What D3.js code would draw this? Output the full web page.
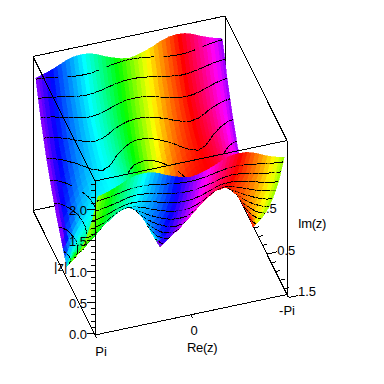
<!DOCTYPE html>
<html>
<head>
<meta charset="utf-8">
<script src="https://cdn.jsdelivr.net/npm/d3@7"></script>
<style>
  html, body { margin: 0; background: #fff; }
  svg { display: block; }
  text { font-family: "Liberation Sans", Arial, sans-serif; font-size: 13px; fill: #000; }
</style>
</head>
<body>
<div id="chart"></div>
<script>
const reValues = [3.05, 2.88, 2.62, 2.36, 2.09, 1.83, 1.57, 1.31, 1.05, 0.79, 0.52, 0.26, 0,
  -0.26, -0.52, -0.79, -1.05, -1.31, -1.57, -1.83, -2.09, -2.36, -2.62, -2.88, -3.05];
const imValues = [-1.5, -1.25, -1, -0.75, -0.5, -0.25, 0, 0.25, 0.5, 0.75, 1, 1.25, 1.5];

// |z|, back row (Im -1.5) first
const modulus = [
  [2.13,2.15,2.19,2.24,2.30,2.34,2.35,2.34,2.30,2.24,2.19,2.15,2.13,2.15,2.19,2.24,2.30,2.34,2.35,2.34,2.30,2.24,2.19,2.15,2.13],
  [1.62,1.64,1.70,1.77,1.84,1.89,1.91,1.89,1.84,1.77,1.70,1.64,1.62,1.64,1.70,1.77,1.84,1.89,1.91,1.89,1.84,1.77,1.70,1.64,1.62],
  [1.21,1.23,1.31,1.40,1.49,1.55,1.57,1.55,1.49,1.40,1.31,1.23,1.21,1.23,1.31,1.40,1.49,1.55,1.57,1.55,1.49,1.40,1.31,1.23,1.21],
  [0.87,0.91,1.01,1.14,1.24,1.32,1.35,1.32,1.24,1.14,1.01,0.91,0.87,0.91,1.01,1.14,1.24,1.32,1.35,1.32,1.24,1.14,1.01,0.91,0.87],
  [0.58,0.64,0.78,0.94,1.07,1.16,1.19,1.16,1.07,0.94,0.78,0.64,0.58,0.64,0.78,0.94,1.07,1.16,1.19,1.16,1.07,0.94,0.78,0.64,0.58],
  [0.33,0.43,0.63,0.82,0.97,1.07,1.10,1.07,0.97,0.82,0.63,0.43,0.33,0.43,0.63,0.82,0.97,1.07,1.10,1.07,0.97,0.82,0.63,0.43,0.33],
  [0.09,0.33,0.58,0.79,0.95,1.05,1.08,1.05,0.95,0.79,0.58,0.33,0.09,0.33,0.58,0.79,0.95,1.05,1.08,1.05,0.95,0.79,0.58,0.33,0.09],
  [0.34,0.45,0.65,0.84,0.99,1.09,1.12,1.09,0.99,0.84,0.65,0.45,0.34,0.45,0.65,0.84,0.99,1.09,1.12,1.09,0.99,0.84,0.65,0.45,0.34],
  [0.61,0.67,0.81,0.97,1.10,1.19,1.22,1.19,1.10,0.97,0.81,0.67,0.61,0.67,0.81,0.97,1.10,1.19,1.22,1.19,1.10,0.97,0.81,0.67,0.61],
  [0.91,0.95,1.05,1.18,1.28,1.36,1.39,1.36,1.28,1.18,1.05,0.95,0.91,0.95,1.05,1.18,1.28,1.36,1.39,1.36,1.28,1.18,1.05,0.95,0.91],
  [1.27,1.29,1.37,1.46,1.55,1.61,1.63,1.61,1.55,1.46,1.37,1.29,1.27,1.29,1.37,1.46,1.55,1.61,1.63,1.61,1.55,1.46,1.37,1.29,1.27],
  [1.69,1.71,1.77,1.84,1.91,1.96,1.98,1.96,1.91,1.84,1.77,1.71,1.69,1.71,1.77,1.84,1.91,1.96,1.98,1.96,1.91,1.84,1.77,1.71,1.69],
  [2.22,2.24,2.28,2.33,2.39,2.43,2.44,2.43,2.39,2.33,2.28,2.24,2.22,2.24,2.28,2.33,2.39,2.43,2.44,2.43,2.39,2.33,2.28,2.24,2.22]
];

// colour of the surface as a hue in degrees, same layout
const hues = [
  [270,254,238,222,208,194,180,166,152,138,122,106,90,74,58,42,28,14,0,-14,-28,-42,-58,-74,-90],
  [270,253,236,220,206,193,180,167,154,140,124,107,90,73,56,40,26,13,0,-13,-26,-40,-56,-73,-90],
  [270,251,233,217,204,192,180,168,156,143,127,109,90,71,53,37,24,12,0,-12,-24,-37,-53,-71,-90],
  [270,247,228,212,200,190,180,170,160,148,132,113,90,67,48,32,20,10,0,-10,-20,-32,-48,-67,-90],
  [270,240,219,205,195,187,180,173,165,155,141,120,90,60,39,25,15,7,0,-7,-15,-25,-39,-60,-90],
  [270,222,203,194,188,184,180,176,172,166,157,138,90,42,23,14,8,4,0,-4,-8,-14,-23,-42,-90],
  [180,180,180,180,180,180,180,180,180,180,180,180,0,0,0,0,0,0,0,0,0,0,0,0,0],
  [90,138,157,166,172,176,180,184,188,194,203,222,-90,-42,-23,-14,-8,-4,0,4,8,14,23,42,90],
  [90,120,141,155,165,173,180,187,195,205,219,240,-90,-60,-39,-25,-15,-7,0,7,15,25,39,60,90],
  [90,113,132,148,160,170,180,190,200,212,228,247,-90,-67,-48,-32,-20,-10,0,10,20,32,48,67,90],
  [90,109,127,143,156,168,180,192,204,217,233,251,-90,-71,-53,-37,-24,-12,0,12,24,37,53,71,90],
  [90,107,124,140,154,167,180,193,206,220,236,253,-90,-73,-56,-40,-26,-13,0,13,26,40,56,73,90],
  [90,106,122,138,152,166,180,194,208,222,238,254,-90,-74,-58,-42,-28,-14,0,14,28,42,58,74,90]
];

const contourLevels = [0.235, 0.47, 0.705, 0.94, 1.175, 1.41, 1.645, 1.88, 2.115];
const zTicks = [0, 0.5, 1, 1.5, 2];
const zTickLabels = ['0.0', '0.5', '1.0', '1.5', '2.0'];
const zMinorTicks = [0.1, 0.2, 0.3, 0.4, 0.6, 0.7, 0.8, 0.9, 1.1, 1.2, 1.3, 1.4, 1.6, 1.7, 1.8, 1.9, 2.1, 2.2, 2.3, 2.4];
const imTicks = [1.5, 0.5, -0.5, -1.5];
const imTickLabels = ['1.5', '0.5', '-0.5', '-1.5'];
const imMinorTicks = [1.3, 1.1, 0.9, 0.7, 0.3, 0.1, -0.1, -0.3, -0.7, -0.9, -1.1, -1.3];
const reTicks = [Math.PI, 0, -Math.PI];
const reTickLabels = ['Pi', '0', '-Pi'];
const reLabelShift = [6, 3, 0];

const size = 384;
const origin = { x: 95, y: 335 };
const reVec = { x: 192, y: -40.5 };
const imVec = { x: -62, y: -124.5 };
const zVec = { x: 0, y: -154 };

const fRe = d3.scaleLinear().domain([Math.PI, -Math.PI]).range([0, 1]);
const fIm = d3.scaleLinear().domain([1.5, -1.5]).range([0, 1]);
const fZ = d3.scaleLinear().domain([0, 2.484]).range([0, 1]);

const project = (re, im, z) => {
  const a = fRe(re), b = fIm(im), c = fZ(z);
  return [
    origin.x + a * reVec.x + b * imVec.x + c * zVec.x,
    origin.y + a * reVec.y + b * imVec.y + c * zVec.y
  ];
};

const svg = d3.select('#chart').append('svg')
  .attr('width', size)
  .attr('height', size);

const line = d3.line();

function edge(g, from, to) {
  g.append('path')
    .attr('d', line([from, to]))
    .attr('fill', 'none')
    .attr('stroke', '#000')
    .attr('stroke-width', 1)
    .attr('shape-rendering', 'crispEdges');
}

const zTop = 2.484;

// everything the surface may cover
const behind = svg.append('g');
edge(behind, project(Math.PI, -1.5, 0), project(-Math.PI, -1.5, 0));
edge(behind, project(-Math.PI, -1.5, 0), project(-Math.PI, -1.5, zTop));
edge(behind, project(-Math.PI, -1.5, 0), project(-Math.PI, 1.5, 0));

// Im ticks run along the Re direction
const imTick = (im, len) => {
  const p = project(-Math.PI, im * 1.05, 0);
  edge(behind, p, [p[0] + len * 0.978, p[1] - len * 0.207]);
};
imMinorTicks.forEach(d => imTick(d, 5));
imTicks.forEach(d => imTick(d, 10));

behind.selectAll('text.im')
  .data(imTicks)
  .join('text')
  .attr('class', 'im')
  .attr('text-anchor', 'middle')
  .attr('x', d => project(-Math.PI, d, 0)[0] + 20)
  .attr('y', d => project(-Math.PI, d, 0)[1] + 1.5)
  .text((d, i) => imTickLabels[i]);

// cells, far ones first: Im back to front, Re right to left
const subRows = 3;
const subCols = 2;
const mix = (a, b, t) => d3.interpolateNumber(a, b)(t);
const cells = [];
for (let j = 0; j < imValues.length - 1; j++) {
  for (let s = 0; s < subRows; s++) {
    const t0 = s / subRows, t1 = (s + 1) / subRows, tm = (s + 0.5) / subRows;
    const im0 = mix(imValues[j], imValues[j + 1], t0);
    const im1 = mix(imValues[j], imValues[j + 1], t1);
    for (let k = reValues.length - 2; k >= 0; k--) {
      for (let c = subCols - 1; c >= 0; c--) {
        const u0 = c / subCols, u1 = (c + 1) / subCols;
        const re0 = mix(reValues[k], reValues[k + 1], u0);
        const re1 = mix(reValues[k], reValues[k + 1], u1);
        const zAt = (u, t) => mix(
          mix(modulus[j][k], modulus[j][k + 1], u),
          mix(modulus[j + 1][k], modulus[j + 1][k + 1], u), t);
        const hueLeft = mix(hues[j][k], hues[j + 1][k], tm);
        const hueRight = mix(hues[j][k + 1], hues[j + 1][k + 1], tm);
        cells.push({
          hue: d3.interpolateHue(hueLeft, hueRight)(u0),
          corners: [
            [re0, im0, zAt(u0, t0)],
            [re1, im0, zAt(u1, t0)],
            [re1, im1, zAt(u1, t1)],
            [re0, im1, zAt(u0, t1)]
          ]
        });
      }
    }
  }
}

// straight pieces of the level lines inside one cell
function contourPieces(corners) {
  const pieces = [];
  contourLevels.forEach(level => {
    const hits = [];
    corners.forEach((c, i) => {
      const n = corners[(i + 1) % 4];
      if ((c[2] - level) * (n[2] - level) < 0) {
        const t = (level - c[2]) / (n[2] - c[2]);
        hits.push(project(c[0] + t * (n[0] - c[0]), c[1] + t * (n[1] - c[1]), level));
      }
    });
    if (hits.length >= 2) pieces.push([hits[0], hits[1]]);
    if (hits.length === 4) pieces.push([hits[2], hits[3]]);
  });
  return pieces;
}

const cellGroups = svg.append('g')
  .selectAll('g')
  .data(cells)
  .join('g');

cellGroups.append('path')
  .attr('d', d => line(d.corners.map(c => project(c[0], c[1], c[2]))) + 'Z')
  .attr('fill', d => d3.hsl(d.hue, 1, 0.5).formatHex())
  .attr('stroke', d => d3.hsl(d.hue, 1, 0.5).formatHex())
  .attr('stroke-width', 0.6)
  .attr('shape-rendering', 'crispEdges');

cellGroups.append('path')
  .attr('d', d => contourPieces(d.corners).map(p => line(p)).join(''))
  .attr('fill', 'none')
  .attr('stroke', '#000')
  .attr('stroke-width', 1)
  .attr('shape-rendering', 'crispEdges');

// box edges and axes on top of the surface
const front = svg.append('g');
edge(front, project(Math.PI, 1.5, 0), project(-Math.PI, 1.5, 0));
edge(front, project(Math.PI, 1.5, 0), project(Math.PI, 1.5, zTop));
edge(front, project(-Math.PI, 1.5, 0), project(-Math.PI, 1.5, zTop));
edge(front, project(Math.PI, 1.5, 0), project(Math.PI, -1.5, 0));
edge(front, project(Math.PI, -1.5, 0), [project(Math.PI, -1.5, 0)[0] + 22, project(Math.PI, -1.5, 0)[1] - 4.6]);
edge(front, project(Math.PI, -1.5, 0), project(Math.PI, -1.5, zTop));
edge(front, project(Math.PI, 1.5, zTop), project(-Math.PI, 1.5, zTop));
edge(front, project(Math.PI, -1.5, zTop), project(-Math.PI, -1.5, zTop));
edge(front, project(Math.PI, 1.5, zTop), project(Math.PI, -1.5, zTop));
edge(front, project(-Math.PI, 1.5, zTop), project(-Math.PI, -1.5, zTop));

const zTick = (z, len) => {
  const p = project(Math.PI, 1.5, z);
  edge(front, [p[0], p[1] - 1.5], [p[0] - len, p[1] - 1.5]);
};
zMinorTicks.forEach(d => zTick(d, 4));
zTicks.forEach(d => zTick(d, 8));

front.selectAll('text.z')
  .data(zTicks)
  .join('text')
  .attr('class', 'z')
  .attr('text-anchor', 'end')
  .attr('x', 87)
  .attr('y', d => project(Math.PI, 1.5, d)[1] + 3.5)
  .text((d, i) => zTickLabels[i]);

reTicks.forEach(d => {
  const p = project(d, 1.5, 0);
  edge(front, p, [p[0] + 1.5, p[1] + 3]);
});

front.selectAll('text.re')
  .data(reTicks)
  .join('text')
  .attr('class', 're')
  .attr('text-anchor', 'middle')
  .attr('x', (d, i) => project(d, 1.5, 0)[0] + reLabelShift[i])
  .attr('y', d => project(d, 1.5, 0)[1] + 20.5)
  .text((d, i) => reTickLabels[i]);

front.append('text').attr('x', 54).attr('y', 271).text('|z|');
front.append('text').attr('x', 187).attr('y', 352).attr('letter-spacing', -0.3).text('Re(z)');
front.append('text').attr('x', 298).attr('y', 228).attr('letter-spacing', -0.3).text('Im(z)');
</script>
</body>
</html>
